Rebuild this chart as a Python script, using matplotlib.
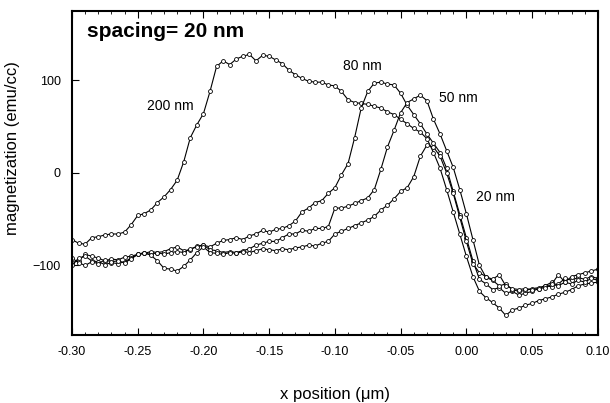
import numpy as np
import matplotlib
matplotlib.use("Agg")
import matplotlib.pyplot as plt
from matplotlib.ticker import MultipleLocator

plt.rcParams['font.family'] = ['Liberation Sans', 'DejaVu Sans']

# x positions (um), sampled every 0.005 um from -0.30 to 0.10
x = np.round(np.arange(-0.30, 0.1001, 0.005), 3)

m_200 = [-72, -76, -77, -70, -69, -67, -66, -66, -64, -56,
         -46, -44, -40, -32, -26, -18, -8, 12, 38, 52,
         64, 88, 115, 121, 117, 123, 126, 128, 121, 127,
         126, 122, 118, 111, 106, 102, 99, 98, 98, 95,
         94, 88, 79, 76, 75, 74, 72, 70, 66, 63,
         58, 53, 48, 44, 37, 22, 5, -18, -42, -66,
         -90, -112, -128, -135, -140, -146, -154, -148, -146, -143,
         -141, -138, -136, -134, -131, -129, -126, -122, -120, -119, -118]

m_80 = [-97, -95, -88, -90, -92, -95, -93, -94, -91, -90,
        -88, -87, -88, -86, -85, -82, -80, -84, -83, -79,
        -78, -80, -76, -73, -72, -70, -72, -68, -66, -62,
        -64, -61, -60, -57, -52, -42, -38, -32, -30, -22,
        -16, -2, 10, 38, 70, 88, 97, 98, 96, 95,
        86, 73, 63, 53, 42, 32, 22, 5, -20, -45,
        -70, -95, -115, -120, -126, -124, -130, -128, -132, -130,
        -128, -125, -122, -123, -120, -114, -116, -113, -115, -112, -114]

m_50 = [-100, -92, -90, -95, -96, -99, -97, -98, -96, -92,
        -88, -87, -85, -86, -88, -86, -85, -86, -82, -80,
        -78, -83, -84, -86, -85, -86, -84, -82, -78, -76,
        -74, -74, -70, -66, -66, -62, -63, -60, -60, -58,
        -38, -38, -36, -33, -30, -27, -18, 4, 28, 46,
        65, 76, 80, 84, 78, 58, 42, 24, 6, -18,
        -44, -72, -100, -113, -116, -122, -120, -126, -128, -127,
        -125, -124, -122, -118, -122, -118, -120, -116, -118, -114, -116]

m_20 = [-92, -97, -100, -96, -98, -94, -96, -95, -97, -93,
        -88, -86, -89, -95, -103, -104, -106, -101, -94, -86,
        -80, -86, -87, -88, -86, -87, -85, -86, -84, -82,
        -83, -84, -82, -83, -81, -80, -78, -79, -76, -74,
        -66, -63, -60, -57, -54, -51, -47, -40, -35, -28,
        -20, -16, -4, 18, 30, 28, 18, 0, -22, -48,
        -74, -98, -108, -112, -115, -110, -122, -125, -126, -125,
        -126, -125, -124, -120, -110, -118, -112, -110, -108, -106, -104]

series = [m_200, m_80, m_50, m_20]
labels = ["200 nm", "80 nm", "50 nm", "20 nm"]
label_pos = [(-0.2255, 72), (-0.079, 115), (-0.006, 81), (0.022, -26)]

fig = plt.figure(figsize=(6.10, 4.03), dpi=100)
ax = fig.add_axes([0.118, 0.169, 0.862, 0.804])

for ys in series:
    ax.plot(x, ys, color='black', lw=0.8, marker='o', ms=2.8,
            mfc='white', mec='black', mew=0.6)

for lab, (lx, ly) in zip(labels, label_pos):
    ax.text(lx, ly, lab, fontsize=10, ha='center', va='center')

ax.text(0.029, 0.935, "spacing= 20 nm", transform=ax.transAxes,
        fontsize=15, fontweight='bold', ha='left', va='center')

ax.set_xlim(-0.30, 0.10)
ax.set_ylim(-175, 175)
ax.xaxis.set_minor_locator(MultipleLocator(0.01))
ax.set_yticks([-100, 0, 100])
ax.set_xticks(np.round(np.arange(-0.30, 0.1001, 0.05), 2))
ax.set_xticklabels(["-0.30", "-0.25", "-0.20", "-0.15", "-0.10",
                    "-0.05", "0.00", "0.05", "0.10"])
ax.tick_params(axis='both', which='major', direction='in', length=5,
               width=0.8, labelsize=9, top=True, right=False, pad=8)
ax.tick_params(axis='x', which='minor', direction='in', length=2.5,
               width=0.6, top=True)
for s in ax.spines.values():
    s.set_linewidth(1.5)

ax.set_xlabel("x position (μm)", fontsize=12)
ax.set_ylabel("magnetization (emu/cc)", fontsize=12)
ax.xaxis.set_label_coords(0.5, -0.16)
ax.yaxis.set_label_coords(-0.099, 0.577)

fig.savefig("out.png", dpi=100)
